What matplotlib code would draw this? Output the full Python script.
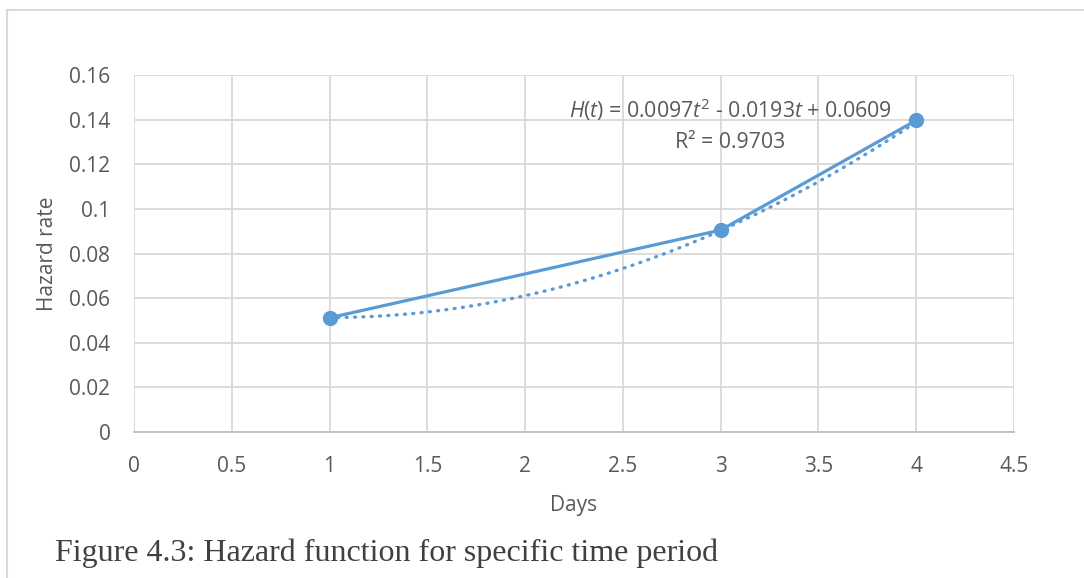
import numpy as np
import matplotlib
matplotlib.use("Agg")
import matplotlib.pyplot as plt
from matplotlib.patches import Rectangle

# data
days = [1, 3, 4]
hazard = [0.0512, 0.0905, 0.1397]
# trendline shown in the chart: H(t) = a t^2 + b t + c
trend_coef = [0.0097, -0.0193, 0.0609]
x_ticks = [0, 0.5, 1, 1.5, 2, 2.5, 3, 3.5, 4, 4.5]
y_ticks = [0, 0.02, 0.04, 0.06, 0.08, 0.1, 0.12, 0.14, 0.16]

BLUE = "#5B9BD5"
GRID = "#D9D9D9"
TXT = "#595959"

plt.rcParams["font.family"] = ["Open Sans", "DejaVu Sans"]
plt.rcParams["mathtext.fontset"] = "custom"
plt.rcParams["mathtext.rm"] = "Open Sans"
plt.rcParams["mathtext.it"] = "Open Sans:italic"

fig = plt.figure(figsize=(10.84, 5.78), dpi=100)
fig.patch.set_facecolor("white")

# outer chart frame (only left/top edges visible in the crop)
fig.add_artist(Rectangle((7 / 1084, -0.05), 1.2, 1 - 10 / 578 + 0.05,
                         transform=fig.transFigure, fill=False,
                         edgecolor=GRID, linewidth=1.5))

ax = fig.add_axes([134 / 1084, 1 - 432 / 578, 880 / 1084, 357 / 578])
ax.set_xlim(0, 4.5)
ax.set_ylim(0, 0.16)
ax.set_xticks(x_ticks)
ax.set_yticks(y_ticks)
ax.set_xticklabels([f"{v:g}" for v in x_ticks])
ax.set_yticklabels([f"{v:g}" for v in y_ticks])
ax.grid(True, color=GRID, linewidth=1.3)
ax.set_axisbelow(True)
for s in ["top", "right", "left"]:
    ax.spines[s].set_visible(False)
ax.spines["bottom"].set_color("#BFBFBF")
ax.spines["bottom"].set_linewidth(1.3)
ax.tick_params(length=0, labelsize=15, labelcolor=TXT, pad=17)

t = np.linspace(days[0], days[-1], 200)
ax.plot(t, np.polyval(trend_coef, t), color=BLUE, linewidth=2.4,
        linestyle=(0, (0.3, 2.2)), dash_capstyle="round", zorder=3)
ax.plot(days, hazard, color=BLUE, linewidth=2.3, marker="o",
        markersize=10, zorder=4)

ax.text(3.05, 0.1445,
        r"$\mathit{H(t)}$ = 0.0097$t^2$ - 0.0193$t$ + 0.0609",
        ha="center", va="center", fontsize=15.3, color=TXT)
ax.text(3.05, 0.1297, "R² = 0.9703", ha="center", va="center",
        fontsize=15.3, color=TXT)

ax.set_xlabel("Days", fontsize=15, color=TXT, labelpad=13)
ax.set_ylabel("Hazard rate", fontsize=15, color=TXT, labelpad=8)

fig.text(55 / 1084, 1 - 553 / 578, "Figure 4.3: Hazard function for specific time period",
         fontsize=23, family="Liberation Serif", color="#404040",
         ha="left", va="center")

fig.savefig("out.png", dpi=100)
